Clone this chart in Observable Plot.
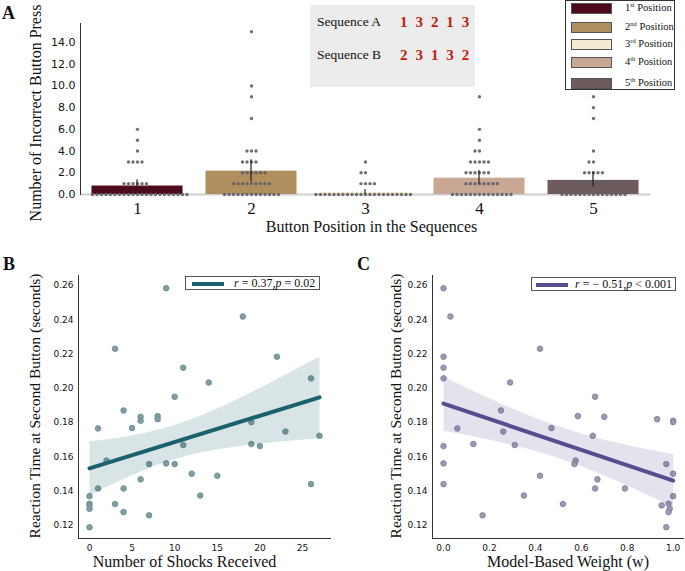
<!DOCTYPE html>
<html><head><meta charset="utf-8">
<script src="https://cdn.jsdelivr.net/npm/d3@7"></script>
<script src="https://cdn.jsdelivr.net/npm/@observablehq/plot@0.6"></script>
<style>
body{margin:0;background:#fff;}
#fig{position:relative;width:685px;height:571px;overflow:hidden;font-family:"Liberation Serif","Times New Roman",serif;color:#111;}
.abs{position:absolute;}
.letter{position:absolute;font-weight:bold;font-size:18px;line-height:18px;}
.seqbox{position:absolute;left:310px;top:5px;width:165px;height:82px;background:#ececec;}
.seqlab{position:absolute;left:7px;font-size:13.5px;line-height:16px;}
.seqnum{position:absolute;left:90px;font-size:15px;line-height:16px;font-weight:bold;color:#c41a10;letter-spacing:1.6px;word-spacing:1px;}
.legA{position:absolute;left:565px;top:0px;width:110px;height:90px;border:1.5px solid #333;background:#fff;box-sizing:border-box;}
.legrow{position:absolute;left:0;width:110px;height:12px;}
.sw{position:absolute;left:5px;top:0;width:41px;height:11px;border:1px solid #555;box-sizing:border-box;}
.lt{position:absolute;left:59px;top:-2px;font-size:10.5px;line-height:14px;white-space:nowrap;}
.lt sup{font-size:6.5px;vertical-align:4px;line-height:0;}
.regleg{position:absolute;height:14px;border:1px solid #555;background:#fff;box-sizing:border-box;font-size:12px;line-height:13px;white-space:nowrap;}
.regleg .ln{position:absolute;top:4.5px;width:32px;height:4px;}
.regleg .tx{position:absolute;top:0px;}
</style></head><body>
<div id="fig">
  <div id="pa" class="abs" style="left:0;top:0"></div>
  <div id="pb" class="abs" style="left:0;top:250px"></div>
  <div id="pc" class="abs" style="left:345px;top:250px"></div>
  <div class="letter" style="left:2px;top:4px">A</div>
  <div class="letter" style="left:3px;top:255px">B</div>
  <div class="letter" style="left:357px;top:255px">C</div>
  <div class="seqbox">
    <div class="seqlab" style="top:9px">Sequence A</div>
    <div class="seqnum" id="seqA" style="top:9px"></div>
    <div class="seqlab" style="top:42px">Sequence B</div>
    <div class="seqnum" id="seqB" style="top:42px"></div>
  </div>
  <div class="legA" id="legA"></div>
  <div class="regleg" style="left:185px;top:276px;width:135px">
    <div class="ln" style="left:6px;background:#1b616b"></div>
    <div class="tx" style="left:48px"><i>r</i> = 0.37,<i>p</i> = 0.02</div>
  </div>
  <div class="regleg" style="left:531px;top:277px;width:145px">
    <div class="ln" style="left:4px;background:#574e8f"></div>
    <div class="tx" style="left:43px"><i>r</i> = − 0.51,<i>p</i> &lt; 0.001</div>
  </div>
</div>
<script>
// ---------- Panel A data ----------
const positions = [1, 2, 3, 4, 5];
const positionNames = ["1st", "2nd", "3rd", "4th", "5th"];
const barMeans = [0.78, 2.15, 0.2, 1.5, 1.3];
const ciLow = [0.4, 1.15, 0.0, 0.95, 0.7];
const ciHigh = [1.35, 3.2, 0.45, 2.2, 2.1];
const errorsPos1 = [6,5,4,3,3,3,3,1,1,1,1,1,1,0,0,0,0,0,0,0,0,0,0,0,0,0,0,0,0,0,0,0,0,0,0];
const errorsPos2 = [15,10,9,7,4,4,4,3,3,3,3,2,2,2,2,2,2,1,1,1,1,1,1,1,1,1,0,0,0,0,0,0,0,0,0,0,0,0,0];
const errorsPos3 = [3,2,2,1,1,1,1,0,0,0,0,0,0,0,0,0,0,0,0,0,0,0,0,0,0,0,0,0,0];
const errorsPos4 = [9,6,5,4,4,3,3,3,3,3,2,2,2,2,2,2,1,1,1,1,1,1,1,1,0,0,0,0,0,0,0,0,0,0,0,0,0,0];
const errorsPos5 = [9,8,7,4,3,3,2,2,2,2,2,1,1,1,1,1,1,1,1,1,1,0,0,0,0,0,0,0,0,0,0,0,0,0,0,0];
const sequenceA = [1, 3, 2, 1, 3];
const sequenceB = [2, 3, 1, 3, 2];

// ---------- Panel B data ----------
const shocks = [9,18,3,22,11,26,14,10,4,6,6,8,8,1,5,19,23,27,11,19,20,2,7,9,10,12,15,6,26,1,4,13,0,3,0,0,0,4,7,0];
const rtShocks = [0.2584,0.2419,0.2231,0.2184,0.2120,0.2058,0.2034,0.1951,0.1871,0.1834,0.1811,0.1838,0.1820,0.1766,0.1768,0.1803,0.1748,0.1723,0.1669,0.1675,0.1663,0.1579,0.1558,0.1562,0.1558,0.1502,0.1490,0.1469,0.1441,0.1416,0.1416,0.1375,0.1371,0.1325,0.1327,0.1317,0.1297,0.1278,0.1259,0.1190];

// ---------- Panel C data ----------
const mbWeight = [0.00,0.03,0.42,0.00,0.00,0.00,0.29,0.66,0.25,0.585,0.70,0.93,1.00,1.00,0.26,0.47,0.06,0.65,0.13,0.31,0.00,0.575,0.00,0.57,0.97,1.00,0.42,0.67,0.00,0.66,0.79,0.35,1.00,0.52,0.95,0.98,0.985,0.98,0.17,0.97];
const rtWeight = [0.2584,0.2419,0.2231,0.2184,0.2120,0.2058,0.2034,0.1951,0.1871,0.1838,0.1834,0.1820,0.1811,0.1803,0.1748,0.1768,0.1766,0.1723,0.1675,0.1669,0.1663,0.1579,0.1562,0.1558,0.1558,0.1502,0.1490,0.1469,0.1441,0.1416,0.1416,0.1375,0.1371,0.1325,0.1317,0.1327,0.1297,0.1278,0.1259,0.1190];

const yTicksA = [0, 2, 4, 6, 8, 10, 12, 14];
const yTicksRT = [0.12, 0.14, 0.16, 0.18, 0.20, 0.22, 0.24, 0.26];
const xTicksB = [0, 5, 10, 15, 20, 25];
const xTicksC = [0, 0.2, 0.4, 0.6, 0.8, 1.0];

// ---------- styles ----------
const palette = ["#4d0a1b", "#b08e5e", "#f5ebd2", "#c9a795", "#6e5c5c"];
const serif = "Liberation Serif, Times New Roman, serif";
const sans = "DejaVu Sans, sans-serif";

// ---------- tables ----------
const barTable = positions.map((p, i) => ({pos: p, mean: barMeans[i], lo: ciLow[i], hi: ciHigh[i]}));
const swarm = [errorsPos1, errorsPos2, errorsPos3, errorsPos4, errorsPos5]
  .flatMap((arr, i) => arr.map(v => ({pos: positions[i], v})));
const scatterB = shocks.map((s, i) => ({x: s, y: rtShocks[i]}));
const scatterC = mbWeight.map((w, i) => ({x: w, y: rtWeight[i]}));

const bandA = (685 - 78 - 33) / positions.length;
const plotA = Plot.plot({
  width: 685, height: 240, marginLeft: 78, marginRight: 33, marginTop: 23, marginBottom: 46,
  style: {background: "transparent"},
  fx: {domain: positions, padding: 0},
  y: {domain: [0, 15.75]},
  color: {type: "ordinal", domain: positions, range: palette},
  marks: [
    Plot.ruleY([0], {stroke: "#cfcfcf", strokeWidth: 2}),
    Plot.barY(barTable, {fx: "pos", y: "mean", fill: "pos", insetLeft: bandA * 0.1, insetRight: bandA * 0.1}),
    Plot.dot(swarm, Plot.dodgeX({anchor: "middle", padding: 1.1}, {fx: "pos", y: "v", r: 1.7, fill: "#5f5f68", fillOpacity: 0.9})),
    // error bars: a 2px-wide bar centred in each facet
    Plot.barY(barTable, {fx: "pos", y1: "lo", y2: "hi", fill: "#222", insetLeft: bandA / 2 - 1, insetRight: bandA / 2 - 1}),
    Plot.frame({anchor: "left", stroke: "#333", facetAnchor: "left"}),
    Plot.axisY({ticks: yTicksA, tickFormat: d => d.toFixed(1), tickSize: 0, tickPadding: 5, fontSize: 11, fontFamily: sans, label: null, fill: "#111"}),
    Plot.axisFx({anchor: "bottom", tickSize: 0, tickPadding: 7, fontSize: 17, fontFamily: serif, label: null, fill: "#111"}),
    Plot.text([{pos: 3, t: "Button Position in the Sequences"}], {fx: "pos", text: "t", frameAnchor: "bottom", textAnchor: "middle", lineAnchor: "middle", dy: 32, dx: 6, fontSize: 16, fontFamily: serif, fill: "#111"}),
    Plot.text([{pos: 1, t: "Number of Incorrect Button Press"}], {fx: "pos", text: "t", frameAnchor: "left", textAnchor: "middle", lineAnchor: "middle", rotate: -90, dx: -44.5, dy: 4, fontSize: 16, fontFamily: serif, fill: "#111"})
  ]
});
document.getElementById("pa").appendChild(plotA);

function scatterPlot(data, opts) {
  return Plot.plot({
    width: opts.width, height: 321, marginLeft: opts.marginLeft, marginRight: opts.marginRight, marginTop: 25, marginBottom: 33,
    style: {background: "transparent"},
    x: {domain: opts.xDomain},
    y: {domain: [0.1124, 0.2658]},
    marks: [
      Plot.dot(data, {x: "x", y: "y", r: 2.8, fill: opts.dotFill, stroke: opts.dotStroke, strokeWidth: 0.8}),
      Plot.linearRegressionY(data, {x: "x", y: "y", stroke: opts.line, strokeWidth: 4, fill: opts.line, fillOpacity: opts.bandOpacity, ci: 0.95}),
      Plot.frame({anchor: "left", stroke: "#333"}),
      Plot.frame({anchor: "bottom", stroke: "#333"}),
      Plot.axisY({ticks: yTicksRT, tickFormat: d => d.toFixed(2), tickSize: 0, tickPadding: 5, fontSize: 9, fontFamily: sans, label: null, fill: "#111"}),
      Plot.axisX({ticks: opts.xTicks, tickFormat: opts.xFormat, tickSize: 0, tickPadding: 6, fontSize: 9, fontFamily: sans, label: null, fill: "#111"}),
      Plot.text([opts.xLabel], {frameAnchor: "bottom", textAnchor: "middle", lineAnchor: "middle", dy: 23, dx: opts.xLabelDx, fontSize: 16, fontFamily: serif, fill: "#111"}),
      Plot.text(["Reaction Time at Second Button (seconds)"], {frameAnchor: "left", textAnchor: "middle", lineAnchor: "middle", rotate: -90, dx: opts.yLabelDx, dy: -1, fontSize: 15.5, fontFamily: serif, fill: "#111"})
    ]
  });
}

document.getElementById("pb").appendChild(scatterPlot(scatterB, {
  width: 345, marginLeft: 78, marginRight: 15, xDomain: [-1.29, 28.29], xTicks: xTicksB, xFormat: d => String(d),
  dotFill: "#819ea2", dotStroke: "#67868a", line: "#1b616b", bandOpacity: 0.17,
  xLabel: "Number of Shocks Received", xLabelDx: -20, yLabelDx: -43
}));
document.getElementById("pc").appendChild(scatterPlot(scatterC, {
  width: 340, marginLeft: 87, marginRight: 2, xDomain: [-0.048, 1.045], xTicks: xTicksC, xFormat: d => d.toFixed(1),
  dotFill: "#9d99b2", dotStroke: "#7d7896", line: "#574e8f", bandOpacity: 0.16,
  xLabel: "Model-Based Weight (w)", xLabelDx: 10, yLabelDx: -36
}));

// sequences
document.getElementById("seqA").textContent = sequenceA.join(" ");
document.getElementById("seqB").textContent = sequenceB.join(" ");

// legend for panel A
const legTops = [2, 20.5, 38, 56, 76.5];
const leg = document.getElementById("legA");
positions.forEach((p, i) => {
  const row = document.createElement("div");
  row.className = "legrow";
  row.style.top = legTops[i] + "px";
  const sw = document.createElement("div");
  sw.className = "sw";
  sw.style.background = palette[i];
  const tx = document.createElement("div");
  tx.className = "lt";
  const num = positionNames[i].slice(0, 1), suf = positionNames[i].slice(1);
  tx.innerHTML = num + "<sup>" + suf + "</sup> Position";
  row.appendChild(sw); row.appendChild(tx);
  leg.appendChild(row);
});
</script>
</body></html>
